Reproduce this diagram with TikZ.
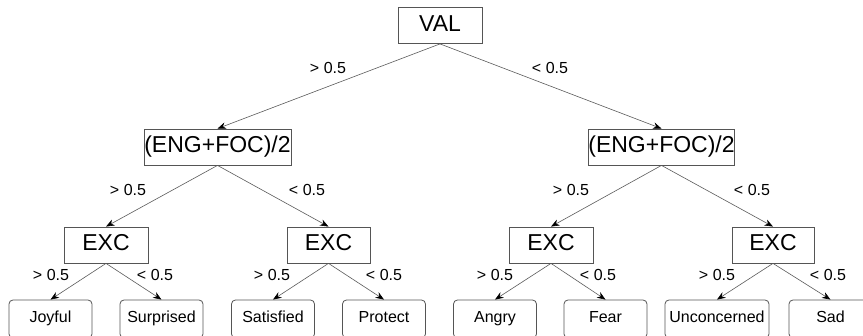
\documentclass[tikz,border=0pt]{standalone}
\usepackage{fontspec}
\setmainfont{Liberation Sans}
\usepackage{xcolor}
\usepackage{tikz}
\usetikzlibrary{arrows.meta}
\definecolor{EdgeGray}{HTML}{5A5A5A}
\definecolor{BoxGray}{HTML}{555555}

\begin{document}
\begin{tikzpicture}[x=1pt,y=-1pt,
                    inner/.style={draw=BoxGray,line width=0.8pt,minimum height=36pt,
                                  inner sep=0pt,text height=16pt,text depth=4pt,
                                  font=\fontsize{23}{25}\selectfont},
                    leaf/.style={draw=BoxGray,line width=0.8pt,rounded corners=4pt,
                                 minimum width=83pt,minimum height=38pt,inner sep=0pt,
                                 text height=11.5pt,text depth=3.5pt,
                                 font=\fontsize{16}{18}\selectfont},
                    lbl/.style={font=\fontsize{16}{18}\selectfont,inner sep=0pt},
                    ar/.style={-{Stealth[length=8.5pt,width=6.5pt,black]},draw=EdgeGray,line width=0.6pt}]
      \useasboundingbox (0,0) rectangle (863,336);
      % root and second level
      \node[inner,minimum width=84pt] (val) at (440,25.5) {VAL};
      \node[inner,minimum width=147pt] (engL) at (217.5,147) {(ENG+FOC)/2};
      \node[inner,minimum width=145pt] (engR) at (661.5,147) {(ENG+FOC)/2};
      % third level
      \node[inner,minimum width=84pt] (exc1) at (106,245) {EXC};
      \node[inner,minimum width=83pt] (exc2) at (328.5,245) {EXC};
      \node[inner,minimum width=84pt] (exc3) at (551,245) {EXC};
      \node[inner,minimum width=82pt] (exc4) at (773,245) {EXC};
      % leaves
      \node[leaf] (joy) at (50.5,319) {Joyful};
      \node[leaf] (sur) at (161.5,319) {Surprised};
      \node[leaf] (sat) at (273,319) {Satisfied};
      \node[leaf] (pro) at (384,319) {Protect};
      \node[leaf] (ang) at (495,319) {Angry};
      \node[leaf] (fea) at (605.5,319) {Fear};
      \node[leaf,minimum width=104pt] (unc) at (717,319) {Unconcerned};
      \node[leaf] (sad) at (830.5,319) {Sad};
      % edges
      \draw[ar](val.south)--(engL.north); \draw[ar](val.south)--(engR.north);
      \draw[ar](engL.south)--(exc1.north); \draw[ar](engL.south)--(exc2.north);
      \draw[ar](engR.south)--(exc3.north); \draw[ar](engR.south)--(exc4.north);
      \draw[ar](exc1.south)--(joy.north); \draw[ar](exc1.south)--(sur.north);
      \draw[ar](exc2.south)--(sat.north); \draw[ar](exc2.south)--(pro.north);
      \draw[ar](exc3.south)--(ang.north); \draw[ar](exc3.south)--(fea.north);
      \draw[ar](exc4.south)--(unc.north); \draw[ar](exc4.south)--(sad.north);
      % edge labels
      \node[lbl] (l1) at (328,68) {> 0.5};
      \node[lbl] (l2) at (550,68) {< 0.5};
      \node[lbl] (l3) at (128,190) {> 0.5};
      \node[lbl] (l4) at (307,190) {< 0.5};
      \node[lbl] (l5) at (571,190) {> 0.5};
      \node[lbl] (l6) at (752,190) {< 0.5};
      \node[lbl] (l7) at (51,275) {> 0.5};
      \node[lbl] (l8) at (155,275) {< 0.5};
      \node[lbl] (l9) at (272,275) {> 0.5};
      \node[lbl] (l10) at (384,275) {< 0.5};
      \node[lbl] (l11) at (495,275) {> 0.5};
      \node[lbl] (l12) at (598,275) {< 0.5};
      \node[lbl] (l13) at (717,275) {> 0.5};
      \node[lbl] (l14) at (828,275) {< 0.5};
    \end{tikzpicture}
\end{document}
